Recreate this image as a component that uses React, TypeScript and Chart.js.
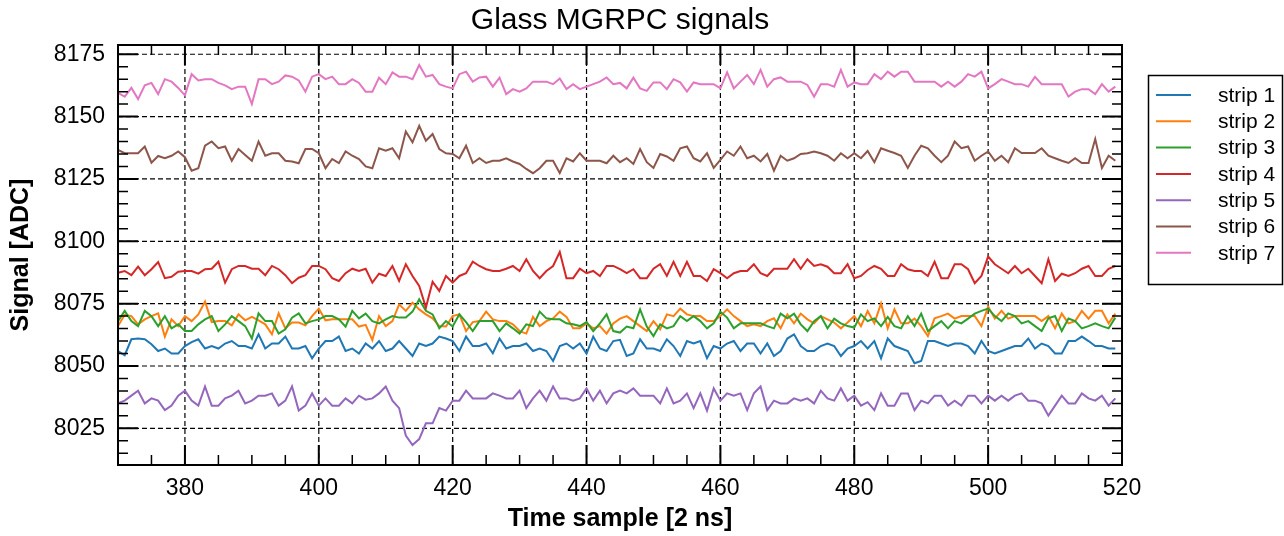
import React, { useEffect, useRef } from "react";
import { Chart, registerables } from "chart.js";

Chart.register(...registerables);

// ---- data ----
const SAMPLES: number[] = Array.from({ length: 150 }, (_, i) => 370 + i);

const STRIP_LABELS = ["strip 1", "strip 2", "strip 3", "strip 4", "strip 5", "strip 6", "strip 7"];
const STRIP_COLORS = ["#1f77b4", "#ff7f0e", "#2ca02c", "#d62728", "#9467bd", "#8c564b", "#e377c2"];

const strip1 = [
  8056, 8054.3, 8060.7, 8061, 8060.7, 8058.7, 8056, 8057, 8055, 8055, 8058, 8059.6, 8060.7, 8057, 8058, 8057, 8059, 8060, 8058, 8058,
  8057, 8062.7, 8057, 8059, 8059, 8061.8, 8057, 8057, 8058, 8053.1, 8057, 8060, 8060, 8061.8, 8056, 8057, 8055, 8059,
  8057, 8060, 8056, 8057, 8060, 8057, 8054, 8059, 8058, 8059, 8061.8, 8061, 8060, 8056, 8061.8, 8058, 8058, 8059, 8055.1, 8061,
  8057, 8058, 8058, 8059, 8056, 8057, 8056, 8052, 8058, 8059, 8057, 8059, 8055, 8061.8, 8057, 8056, 8060, 8060.5,
  8054, 8055, 8060.7, 8057, 8057, 8056, 8060.7, 8058, 8054, 8060, 8059, 8060, 8053.1, 8058, 8057, 8059, 8060, 8056, 8059, 8059,
  8055, 8059, 8054, 8056, 8061, 8062.7, 8058, 8056, 8056, 8058, 8059, 8058, 8054, 8057, 8058, 8060, 8057,
  8060, 8053.1, 8061, 8058, 8057, 8056, 8051.1, 8052, 8060, 8060, 8059, 8058, 8059, 8059, 8058, 8055, 8060, 8056, 8055, 8056,
  8057, 8058, 8058, 8061, 8057, 8059, 8058, 8055, 8055, 8060, 8060, 8061.8, 8060, 8058, 8058, 8057, 8057,
];

const strip2 = [
  8066, 8070.5, 8070, 8066.7, 8068.7, 8070, 8071.1, 8061.8, 8068.7, 8066, 8070, 8068, 8070.7, 8075.8, 8067.6, 8068, 8068, 8066.3, 8070.7, 8068.3,
  8069.7, 8068.3, 8066.7, 8062.7, 8071.1, 8065.1, 8067.4, 8067.4, 8066.3, 8070, 8073, 8068.3, 8068.7, 8068.7, 8068.7, 8068.7, 8065.8, 8066.5,
  8060.4, 8070, 8066, 8068, 8074.7, 8072.1, 8075.4, 8072.7, 8070.7, 8069.1, 8066, 8065.8, 8070, 8070.7, 8064, 8067.6, 8068, 8071.8, 8068.7, 8068,
  8068, 8066.7, 8064, 8063, 8069.7, 8066, 8068, 8069.1, 8071.8, 8069.7, 8065.1, 8065.1, 8067.1, 8065.1, 8066, 8063, 8067.1, 8069,
  8070, 8068, 8066, 8064, 8068, 8064.7, 8070.7, 8070, 8073, 8070.7, 8070, 8070, 8068, 8068, 8070, 8072.7, 8070, 8068, 8066, 8066.7,
  8066, 8068, 8069.1, 8065.1, 8070.7, 8067.1, 8071, 8068.7, 8067.1, 8070, 8068.7, 8067.4, 8065.1, 8067.4, 8070, 8066, 8072,
  8067.1, 8075.1, 8065.1, 8072.7, 8067.1, 8067.1, 8069, 8066, 8062, 8069.1, 8070, 8071, 8069, 8070, 8070, 8070, 8066, 8073.8, 8069, 8072.1,
  8069, 8070, 8070, 8070, 8070, 8068, 8070, 8065.1, 8071, 8067.1, 8068, 8072.1, 8069, 8072.1, 8072.1, 8067.1, 8071,
];

const strip3 = [
  8068, 8072.1, 8068, 8066, 8072.1, 8070, 8066, 8070, 8065.1, 8066.7, 8064, 8064, 8066.7, 8068.7, 8070, 8064, 8066.7, 8070, 8068, 8066,
  8061, 8071.1, 8068, 8068, 8063, 8064.7, 8069.4, 8071.1, 8067.1, 8068, 8068.7, 8070, 8070, 8068.7, 8065.8, 8072.1, 8069.1, 8071,
  8068, 8067.1, 8068.7, 8070, 8069.4, 8069.4, 8071.8, 8076.7, 8072.1, 8070.7, 8065.1, 8068, 8065.8, 8070.7, 8067.6, 8064, 8068, 8068, 8068, 8064,
  8067.1, 8065.1, 8063, 8066.7, 8066, 8071.8, 8069.1, 8068.7, 8068.7, 8067.1, 8066.7, 8066, 8067.6, 8064, 8067.1, 8070.7, 8064, 8063.4,
  8065.8, 8065.1, 8072.7, 8065.8, 8062, 8066.7, 8065.1, 8066, 8070, 8068, 8070, 8068, 8065.1, 8067.1, 8071.7, 8069.4, 8065.1, 8067.1, 8067.1, 8067.1,
  8067.1, 8066, 8065.1, 8071, 8069.1, 8071, 8066.7, 8064, 8068, 8070, 8065.1, 8069, 8067.1, 8066, 8065.4, 8070.7, 8068,
  8069.1, 8066, 8069.7, 8066, 8065.1, 8070, 8066, 8071, 8064, 8066, 8068, 8065.1, 8068, 8067.1, 8069, 8071, 8072.1, 8073, 8070, 8068,
  8071.1, 8070, 8067.1, 8068, 8066, 8064, 8069.1, 8070, 8064, 8069, 8068, 8065.1, 8066, 8067.1, 8066, 8065.1, 8069.4,
];

const strip4 = [
  8087.4, 8088.1, 8086.4, 8089.8, 8086.4, 8088.8, 8091.7, 8085.2, 8085.8, 8087.8, 8088.1, 8088.1, 8087, 8088.8, 8089, 8091.8, 8083.4, 8088.8, 8090.1, 8090.1,
  8089, 8089, 8086.4, 8090.1, 8088.8, 8086.4, 8083.2, 8085.4, 8086.4, 8090.1, 8090.1, 8088.8, 8085.2, 8084.1, 8087.2, 8089, 8088.1, 8089,
  8083.4, 8087, 8086.1, 8090.1, 8084.1, 8090.8, 8086.1, 8082.1, 8073.4, 8083.8, 8080.1, 8086.1, 8083.4, 8086.1, 8087.2, 8091.8, 8090.1, 8088.8, 8088.1, 8088.1,
  8089, 8090.1, 8088.1, 8092.8, 8088.1, 8085.2, 8088.1, 8090.1, 8095.7, 8085.2, 8085.2, 8089, 8087.2, 8088.1, 8086.1, 8090.1, 8090.1, 8088.8,
  8087.2, 8088.8, 8085.2, 8085.2, 8089, 8090.8, 8086.1, 8091.8, 8086.1, 8091.8, 8086.1, 8086.1, 8084.1, 8088.8, 8087.2, 8085.2, 8087.2, 8088.1, 8088.1, 8090.8,
  8087.2, 8086.1, 8089, 8089, 8089, 8092.8, 8089, 8092.8, 8090.1, 8090.8, 8089.8, 8087.2, 8087.2, 8090.8, 8085.2, 8086.1, 8088.5,
  8090.1, 8089, 8086.1, 8086.1, 8090.8, 8088.8, 8088.1, 8088.1, 8086.1, 8091.8, 8085.2, 8085.2, 8090.8, 8090.8, 8088.8, 8083.2, 8086.1, 8093.9, 8090.8, 8089,
  8087.2, 8090.1, 8087.2, 8089, 8086.1, 8083.2, 8092.8, 8084.1, 8087, 8086.1, 8087.2, 8089, 8090.1, 8086.1, 8086.1, 8089, 8090.1,
];

const strip5 = [
  8035, 8036.1, 8038.1, 8040.1, 8035, 8037, 8036.1, 8032.3, 8034.1, 8038.1, 8040.1, 8036.1, 8034.1, 8041.8, 8034.1, 8034.1, 8037, 8038.1, 8040.1, 8035,
  8036.1, 8038.1, 8038.1, 8039, 8034.1, 8036.1, 8041.8, 8032.1, 8034.1, 8039, 8034.1, 8037, 8034.1, 8034.1, 8037, 8035, 8038.1, 8036.5,
  8037, 8039, 8041.8, 8036.1, 8033.1, 8022.1, 8018.3, 8020.7, 8027, 8027, 8033.1, 8032.1, 8036.1, 8036.1, 8040.1, 8037, 8037, 8037, 8039, 8038.1,
  8037, 8037, 8040.1, 8033.1, 8037, 8040.1, 8036.1, 8041.8, 8037, 8037, 8036.1, 8037, 8041, 8036.1, 8040.1, 8035, 8039, 8040.1,
  8039, 8041, 8038.1, 8038.1, 8038.1, 8035, 8041, 8035, 8036.1, 8039, 8033.1, 8039, 8032.1, 8041, 8036.1, 8039, 8038.1, 8039, 8032.3, 8039,
  8041.8, 8032.3, 8036.1, 8035, 8035, 8037, 8036.1, 8037, 8035, 8040.1, 8037, 8036.1, 8041, 8036.1, 8038.1, 8034.1, 8035.5,
  8032.3, 8039, 8034.1, 8034.1, 8039, 8039, 8032.3, 8036.1, 8035, 8038.1, 8038.1, 8034.1, 8036.1, 8034.1, 8038.1, 8038.1, 8035, 8038.1, 8036.1, 8038.1,
  8036.1, 8038.1, 8039, 8036.1, 8036.1, 8035, 8030.1, 8034.1, 8038.1, 8035, 8035, 8039, 8037, 8036.1, 8038.1, 8034.1, 8037,
];

const strip6 = [
  8136.6, 8135.3, 8135.3, 8135.3, 8138, 8131.5, 8134.2, 8133.3, 8134.3, 8136, 8133.7, 8128.3, 8129.3, 8138.3, 8140, 8137.3, 8138, 8132.3, 8137, 8134.6,
  8132.3, 8140, 8134.3, 8135.3, 8135.3, 8132.3, 8132, 8131.3, 8137, 8137, 8135.3, 8129.3, 8133, 8131.3, 8136, 8134.3, 8133, 8130,
  8129.3, 8137.3, 8136.3, 8137.3, 8133.3, 8144, 8139.7, 8146.3, 8140.3, 8143, 8137, 8135.3, 8135, 8133.3, 8138.3, 8131.4, 8133.3, 8131.4, 8132.3, 8132.3,
  8133.3, 8132, 8131, 8129, 8127.3, 8129.3, 8132.3, 8132.3, 8127.4, 8133.3, 8132, 8135.3, 8132.3, 8132.3, 8132.3, 8131.3, 8134.3, 8131.7,
  8133.3, 8131, 8137, 8131.7, 8129.4, 8135, 8134, 8132.3, 8137.3, 8138, 8133.3, 8132, 8135.3, 8129.4, 8132.6, 8136, 8134.3, 8138, 8133.3, 8134.3,
  8132, 8135, 8128.3, 8134.3, 8132.3, 8133.3, 8135, 8135.3, 8136, 8135.3, 8134.3, 8132.3, 8135.3, 8133.3, 8135.3, 8133.3, 8136.2,
  8131.7, 8137.3, 8136.3, 8135.4, 8134.3, 8129.4, 8134.3, 8138.3, 8137.3, 8134.3, 8131.7, 8134.3, 8140, 8137.3, 8138, 8132.3, 8134.3, 8136, 8132.3, 8134.3,
  8131.7, 8137.3, 8135.4, 8135.4, 8135.4, 8137.3, 8134.3, 8133.3, 8132.3, 8131.4, 8133.3, 8131.4, 8131.4, 8141, 8129.4, 8134.3, 8132.3,
];

const strip7 = [
  8159.5, 8158, 8161.5, 8157, 8162.5, 8163.5, 8159, 8165, 8164, 8161.5, 8158.5, 8167, 8164.5, 8165, 8165, 8163.5, 8162.5, 8161, 8162, 8162,
  8155, 8165, 8165, 8163, 8164, 8166.5, 8166, 8164.5, 8160, 8166, 8167, 8165, 8166, 8163, 8163, 8165, 8163.5, 8160,
  8160, 8165.6, 8163, 8167.7, 8166, 8166, 8165, 8170.7, 8166, 8166.7, 8163, 8162, 8161.3, 8167, 8168, 8164, 8165.7, 8166, 8162, 8165.6,
  8159, 8161, 8160, 8161.3, 8164, 8164, 8164, 8163, 8165.3, 8161, 8163, 8161, 8162, 8163, 8164, 8165.7, 8163, 8163.5,
  8161.3, 8165.6, 8161.3, 8160.3, 8163.7, 8163.7, 8161, 8165, 8163.7, 8160, 8163.7, 8163, 8163, 8163, 8161.3, 8167.7, 8161.3, 8164, 8166.7, 8163,
  8168.7, 8162, 8165, 8165.7, 8164, 8164, 8164, 8162.7, 8158, 8163, 8163, 8162, 8168.7, 8162, 8163.7, 8163, 8163,
  8167, 8165, 8168, 8166, 8168, 8168, 8164, 8164, 8164, 8164, 8162, 8164, 8162, 8164, 8167, 8166, 8168, 8161.3, 8163, 8165,
  8164, 8163, 8163, 8162, 8165.9, 8163, 8163, 8163, 8163, 8158, 8160, 8161, 8161, 8159, 8163, 8160, 8162,
];

const STRIPS = [strip1, strip2, strip3, strip4, strip5, strip6, strip7];

const X_TICKS = [380, 400, 420, 440, 460, 480, 500, 520];
const Y_TICKS = [8025, 8050, 8075, 8100, 8125, 8150, 8175];
const X_MIN = 370;
const X_MAX = 520;
const Y_MIN = 8010.3;
const Y_MAX = 8178.7;
const X_MINOR_STEP = 5;
const Y_MINOR_STEP = 5;

const TITLE = "Glass MGRPC signals";
const X_TITLE = "Time sample [2 ns]";
const Y_TITLE = "Signal [ADC]";

const FONT = '"Liberation Sans", Arial, Helvetica, sans-serif';

const decor = {
  id: "decor",
  beforeDatasetsDraw(chart: any) {
    const { ctx, chartArea: a, scales } = chart;
    const x = scales.x;
    const y = scales.y;
    ctx.save();
    ctx.strokeStyle = "#000";
    ctx.lineWidth = 1.2;
    ctx.setLineDash([5, 3]);
    for (const v of X_TICKS) {
      const px = x.getPixelForValue(v);
      if (px <= a.left + 1 || px >= a.right - 1) continue;
      ctx.beginPath();
      ctx.moveTo(px, a.top);
      ctx.lineTo(px, a.bottom);
      ctx.stroke();
    }
    for (const v of Y_TICKS) {
      const py = y.getPixelForValue(v);
      if (py <= a.top + 1 || py >= a.bottom - 1) continue;
      ctx.beginPath();
      ctx.moveTo(a.left, py);
      ctx.lineTo(a.right, py);
      ctx.stroke();
    }
    ctx.restore();
  },
  afterDatasetsDraw(chart: any) {
    const { ctx, chartArea: a, scales } = chart;
    const x = scales.x;
    const y = scales.y;
    ctx.save();
    ctx.setLineDash([]);
    ctx.strokeStyle = "#000";
    ctx.lineWidth = 1.5;
    const majorLen = 20;
    const minorLen = 10;
    for (let v = Math.ceil(X_MIN / X_MINOR_STEP) * X_MINOR_STEP; v <= X_MAX; v += X_MINOR_STEP) {
      if (X_TICKS.includes(v)) continue;
      const px = x.getPixelForValue(v);
      ctx.beginPath();
      ctx.moveTo(px, a.bottom);
      ctx.lineTo(px, a.bottom - minorLen);
      ctx.moveTo(px, a.top);
      ctx.lineTo(px, a.top + minorLen);
      ctx.stroke();
    }
    for (let v = Math.ceil(Y_MIN / Y_MINOR_STEP) * Y_MINOR_STEP; v <= Y_MAX; v += Y_MINOR_STEP) {
      if (Y_TICKS.includes(v)) continue;
      const py = y.getPixelForValue(v);
      ctx.beginPath();
      ctx.moveTo(a.left, py);
      ctx.lineTo(a.left + minorLen, py);
      ctx.moveTo(a.right, py);
      ctx.lineTo(a.right - minorLen, py);
      ctx.stroke();
    }
    ctx.lineWidth = 2;
    for (const v of X_TICKS) {
      const px = x.getPixelForValue(v);
      ctx.beginPath();
      ctx.moveTo(px, a.bottom);
      ctx.lineTo(px, a.bottom - majorLen);
      ctx.moveTo(px, a.top);
      ctx.lineTo(px, a.top + majorLen);
      ctx.stroke();
    }
    for (const v of Y_TICKS) {
      const py = y.getPixelForValue(v);
      ctx.beginPath();
      ctx.moveTo(a.left, py);
      ctx.lineTo(a.left + majorLen, py);
      ctx.moveTo(a.right, py);
      ctx.lineTo(a.right - majorLen, py);
      ctx.stroke();
    }
    ctx.lineWidth = 2;
    ctx.strokeRect(a.left, a.top, a.right - a.left, a.bottom - a.top);

    // title
    ctx.fillStyle = "#000";
    ctx.font = `30px ${FONT}`;
    ctx.textAlign = "center";
    ctx.textBaseline = "middle";
    ctx.fillText(TITLE, (a.left + a.right) / 2, 21);

    // legend
    const lx = 1148;
    const ly = 75;
    ctx.fillStyle = "#fff";
    ctx.fillRect(lx, ly, 135, 210);
    ctx.lineWidth = 1.5;
    ctx.strokeStyle = "#000";
    ctx.strokeRect(lx + 0.5, ly + 0.5, 134, 209);
    ctx.font = `21px ${FONT}`;
    ctx.textAlign = "left";
    ctx.textBaseline = "middle";
    chart.data.datasets.forEach((ds: any, i: number) => {
      const yy = 95 + i * 26.3;
      ctx.strokeStyle = ds.borderColor;
      ctx.lineWidth = 2;
      ctx.beginPath();
      ctx.moveTo(1156, yy);
      ctx.lineTo(1191, yy);
      ctx.stroke();
      ctx.fillStyle = "#000";
      ctx.fillText(ds.label, 1218, yy + 1);
    });
    ctx.restore();
  },
};

export default function App() {
  const ref = useRef<HTMLCanvasElement>(null);
  useEffect(() => {
    if (!ref.current) return;
    const datasets = STRIPS.map((vals, k) => ({
      label: STRIP_LABELS[k],
      data: vals.map((v, i) => ({ x: SAMPLES[i], y: v })),
      borderColor: STRIP_COLORS[k],
      backgroundColor: STRIP_COLORS[k],
      borderWidth: 2,
      pointRadius: 0,
      tension: 0,
      fill: false,
      order: STRIPS.length - k,
    }));
    const chart = new Chart(ref.current, {
      type: "line",
      data: { datasets },
      plugins: [decor],
      options: {
        animation: false,
        responsive: false,
        maintainAspectRatio: false,
        devicePixelRatio: 1,
        layout: { padding: { left: 0, top: 45, right: 162, bottom: 0 } },
        plugins: { legend: { display: false }, title: { display: false }, tooltip: { enabled: false } },
        scales: {
          x: {
            type: "linear",
            min: X_MIN,
            max: X_MAX,
            afterBuildTicks: (s: any) => {
              s.ticks = X_TICKS.map((v) => ({ value: v }));
            },
            afterFit: (s: any) => {
              s.height = 71;
            },
            grid: { display: false, drawTicks: false },
            border: { display: false },
            ticks: {
              color: "#000",
              font: { size: 23, family: FONT },
              padding: 10,
              maxRotation: 0,
              autoSkip: false,
              callback: (v: any) => String(v),
            },
            title: {
              display: true,
              text: X_TITLE,
              color: "#000",
              font: { size: 25, weight: "bold", family: FONT },
              padding: { top: 0, bottom: 2 },
            },
          },
          y: {
            type: "linear",
            min: Y_MIN,
            max: Y_MAX,
            afterBuildTicks: (s: any) => {
              s.ticks = Y_TICKS.map((v) => ({ value: v }));
            },
            afterFit: (s: any) => {
              s.width = 118;
            },
            grid: { display: false, drawTicks: false },
            border: { display: false },
            ticks: {
              color: "#000",
              font: { size: 23, family: FONT },
              padding: 13,
              autoSkip: false,
              callback: (v: any) => String(v),
            },
            title: {
              display: true,
              text: Y_TITLE,
              color: "#000",
              font: { size: 25, weight: "bold", family: FONT },
              padding: { top: 6, bottom: 0 },
            },
          },
        },
      } as any,
    });
    return () => chart.destroy();
  }, []);
  return (
    <div style={{ position: "fixed", left: 0, top: 0, width: 1284, height: 536, background: "#fff" }}>
      <canvas ref={ref} width={1284} height={536} style={{ display: "block", width: 1284, height: 536 }} />
    </div>
  );
}
